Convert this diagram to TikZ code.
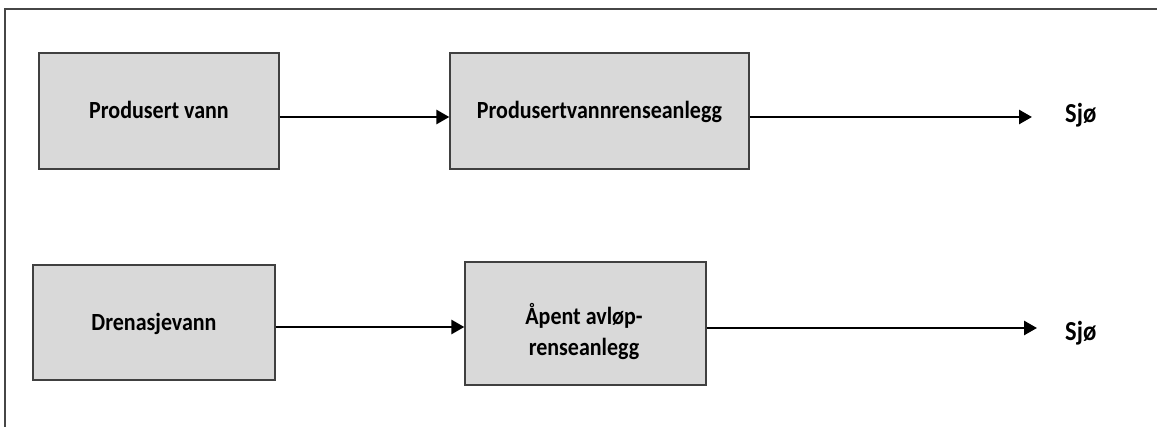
\documentclass[tikz,border=0pt]{standalone}
\usepackage{fontspec}
\setmainfont{Carlito}
\usetikzlibrary{arrows.meta,calc}
\definecolor{boxfill}{RGB}{217,217,217}
\definecolor{boxline}{RGB}{64,64,64}
\definecolor{framecol}{RGB}{70,70,70}
\newcommand\vstr[1]{\scalebox{1}[1.12]{#1}}
\tikzset{
  procbox/.style={draw=boxline, line width=1.3pt, fill=boxfill, inner sep=0pt,
    font=\fontsize{22}{31}\selectfont\bfseries, text height=16pt, text depth=0pt},
  lbl/.style={font=\fontsize{22}{28}\selectfont\bfseries, inner sep=0pt},
  sealbl/.style={font=\fontsize{24.5}{28}\selectfont\bfseries, inner sep=0pt},
  arr/.style={line width=2.7pt, -{Triangle[length=13pt,width=14pt]}},
}
\begin{document}
\begin{tikzpicture}[x=1pt,y=-1pt]
\useasboundingbox (0,0) rectangle (1157,427);
% frame (right and bottom edges lie outside the picture)
\draw[framecol, line width=1.5pt] (5,440) -- (5,9) -- (1170,9);
% boxes
\node[procbox, minimum width=240pt, minimum height=116pt] (b1) at (159,111) {\vstr{Produsert vann}};
\node[procbox, minimum width=299pt, minimum height=116pt] (b2) at (599.5,111) {\vstr{Produsertvannrenseanlegg}};
\node[procbox, minimum width=242pt, minimum height=115pt] (b3) at (154,322.5) {\vstr{Drenasjevann}};
\node[procbox, minimum width=241pt, minimum height=123pt] (b4) at (585.5,323.5) {};
\node[lbl, align=center] (t4) at (584,334) {\vstr{\begin{tabular}{@{}c@{}}Åpent avløp-\\renseanlegg\end{tabular}}};
\node[sealbl, anchor=base west] (s1) at (1065,123) {\vstr{Sjø}};
\node[sealbl, anchor=base west] (s2) at (1065,341) {\vstr{Sjø}};
% arrow levels
\coordinate (y1) at (0,117);
\coordinate (y2) at (0,327);
\coordinate (y3) at (0,328);
% connectors
\draw[arr] (b1.east |- y1) -- (b2.west |- y1);
\draw[arr, shorten >=33pt] (b2.east |- y1) -- (s1.west |- y1);
\draw[arr] (b3.east |- y2) -- (b4.west |- y2);
\draw[arr, shorten >=28pt] (b4.east |- y3) -- (s2.west |- y3);
\end{tikzpicture}
\end{document}
